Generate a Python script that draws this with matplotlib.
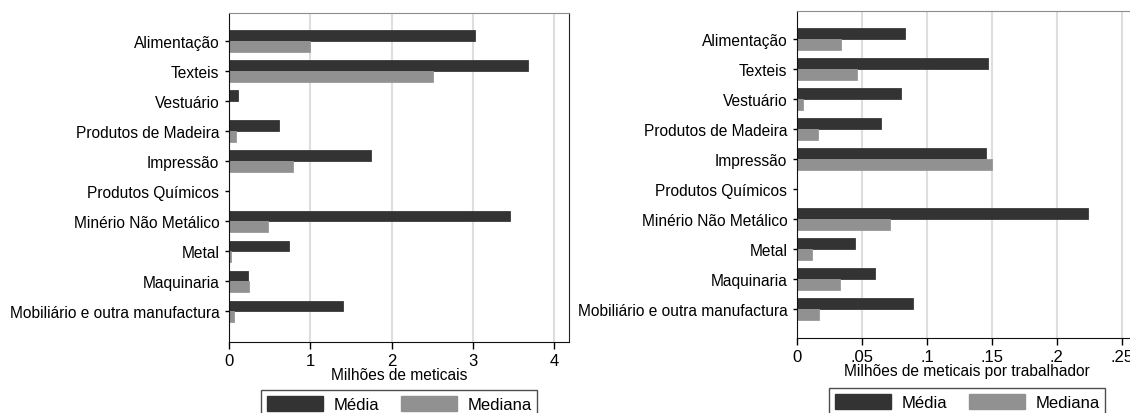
import numpy as np
import matplotlib
matplotlib.use('Agg')
import matplotlib.pyplot as plt
from matplotlib.patches import Patch

plt.rcParams['font.family'] = ['Liberation Sans', 'DejaVu Sans']

# data
setores = ['Alimentação', 'Texteis', 'Vestuário', 'Produtos de Madeira', 'Impressão',
           'Produtos Químicos', 'Minério Não Metálico', 'Metal', 'Maquinaria',
           'Mobiliário e outra manufactura']
media_total = [3.03, 3.68, 0.11, 0.615, 1.74, 0, 3.46, 0.74, 0.23, 1.40]
mediana_total = [0.99, 2.51, 0, 0.09, 0.79, 0, 0.48, 0.03, 0.24, 0.065]
media_trab = [0.083, 0.147, 0.080, 0.065, 0.1456, 0, 0.224, 0.045, 0.060, 0.089]
mediana_trab = [0.034, 0.046, 0.0046, 0.016, 0.150, 0, 0.0715, 0.0115, 0.033, 0.017]

c_media = '#333333'
c_mediana = '#919191'
fs = 11.2

fig = plt.figure(figsize=(11.3, 4.14), dpi=100)
ax1 = fig.add_axes([229/1130, 1-343/414, 340/1130, 329/414])
ax2 = fig.add_axes([797/1130, 1-339/414, 339/1130, 327/414])

y = np.arange(len(setores))
h = 0.36


def painel(ax, media, mediana, xmax, ticks, ticklabels, xlabel, ylim):
    ax.set_axisbelow(True)
    ax.xaxis.grid(True, color='#dedede', linewidth=1.5)
    ax.barh(y - h/2, media, height=h, color=c_media, edgecolor='#3a3a3a', linewidth=0.6)
    ax.barh(y + h/2, mediana, height=h, color=c_mediana, edgecolor='#999999', linewidth=0.6)
    ax.set_yticks(y)
    ax.set_yticklabels(setores, fontsize=fs)
    ax.set_ylim(*ylim)
    ax.set_xlim(0, xmax)
    ax.set_xticks(ticks)
    ax.set_xticklabels(ticklabels, fontsize=12)
    ax.set_xlabel(xlabel, fontsize=fs, labelpad=-1)
    ax.tick_params(axis='x', length=5, width=1, pad=3)
    ax.tick_params(axis='y', length=3, width=1, pad=4)
    ax.spines['top'].set_color('#8c8c8c')
    ax.spines['right'].set_color('#222222')
    for s in ['left', 'bottom']:
        ax.spines[s].set_color('#111111')


painel(ax1, media_total, mediana_total, 4.18, [0, 1, 2, 3, 4], ['0', '1', '2', '3', '4'],
       'Milhões de meticais', (10.02, -0.94))
painel(ax2, media_trab, mediana_trab, 0.261, [0, .05, .1, .15, .2, .25],
       ['0', '.05', '.1', '.15', '.2', '.25'], 'Milhões de meticais por trabalhador', (9.97, -0.94))

handles = [Patch(facecolor=c_media, edgecolor=c_media), Patch(facecolor=c_mediana, edgecolor=c_mediana)]
for xc, yt in [(399/1130, 1-391/414), (967/1130, 1-389/414)]:
    leg = fig.legend(handles, ['Média', 'Mediana'], ncol=2, loc='upper center',
                     bbox_to_anchor=(xc, yt), fontsize=12, frameon=True, fancybox=False,
                     handlelength=3.4, handleheight=1.0, columnspacing=1.3, borderpad=0.35,
                     handletextpad=0.6, borderaxespad=0)
    leg.get_frame().set_edgecolor('#222222')
    leg.get_frame().set_linewidth(1)

fig.savefig('out.png', dpi=100)
